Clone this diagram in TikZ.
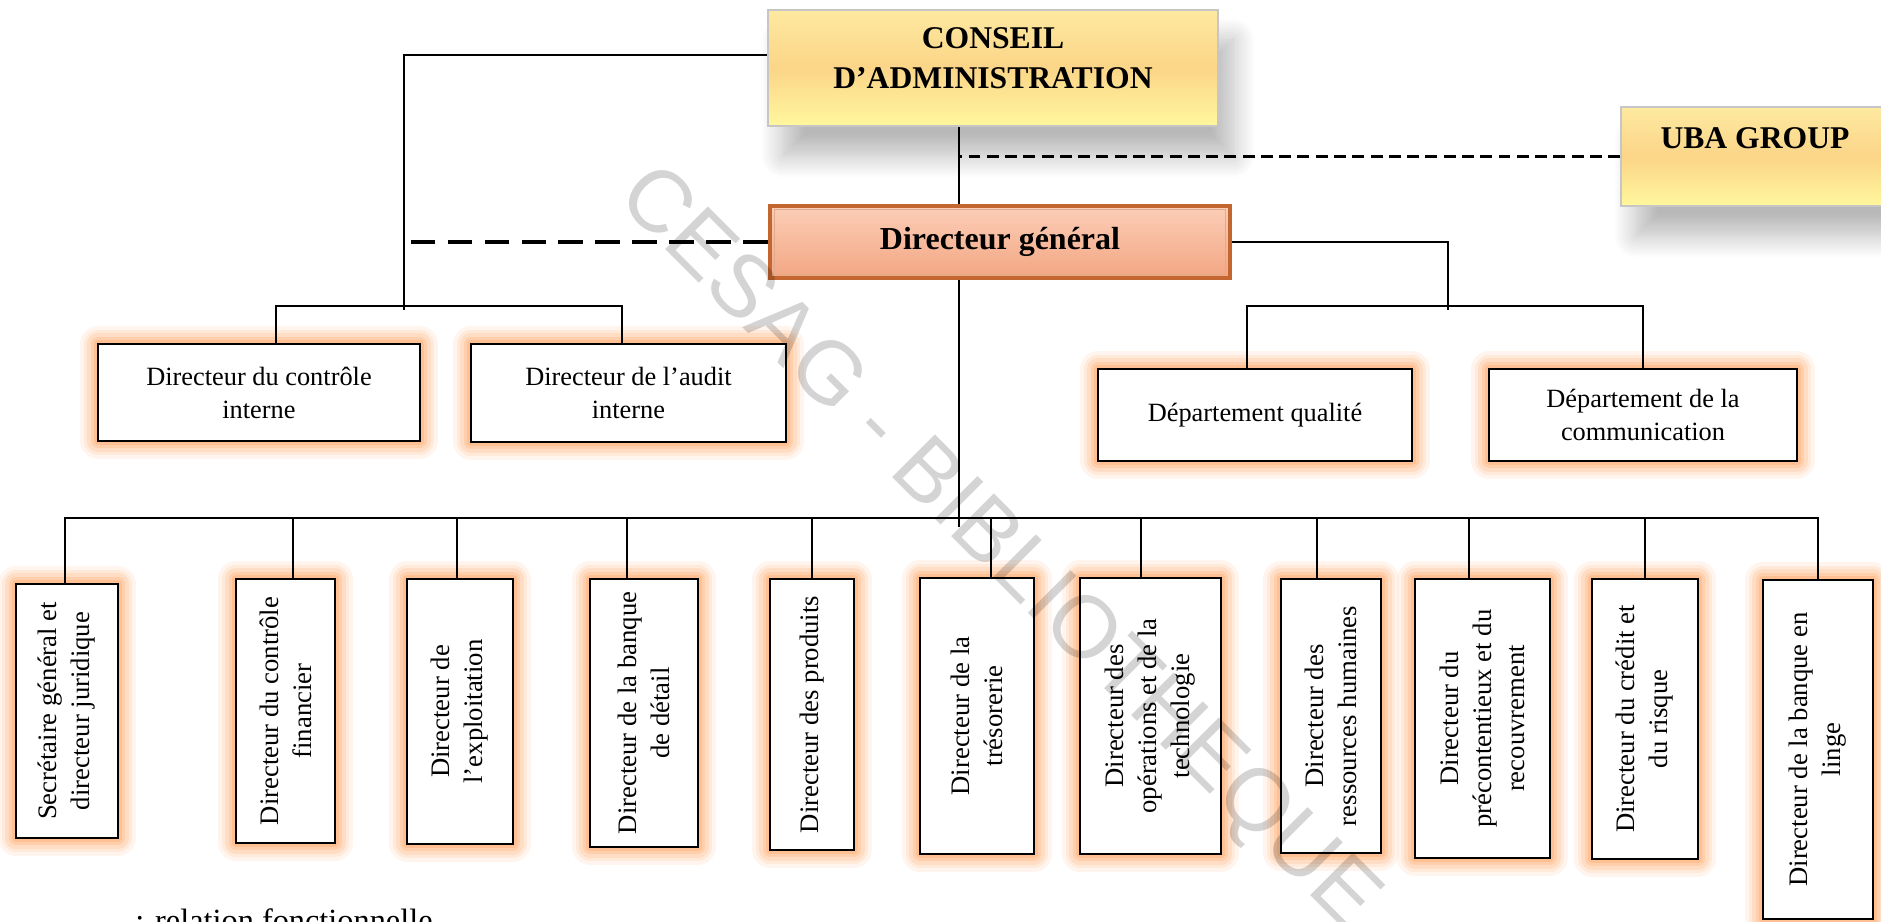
\documentclass[tikz,border=0pt]{standalone}
\usepackage{fontspec}
\setmainfont{Liberation Serif}
\newfontfamily\wmfont{Liberation Sans}
\usepackage{xcolor}
\usepackage{tikz}
\usetikzlibrary{shadows}
\usetikzlibrary{shadows.blur}
\usetikzlibrary{positioning}

\definecolor{glowc}{RGB}{255,158,88}
\definecolor{caTop}{RGB}{253,233,160}
\definecolor{caMid}{RGB}{251,213,136}
\definecolor{caBot}{RGB}{255,247,158}
\definecolor{dgTop}{RGB}{252,206,184}
\definecolor{dgBot}{RGB}{242,166,130}
\definecolor{dgEdge}{RGB}{196,102,48}

\tikzset{
    link/.style={draw=black, line width=.6pt},
    rel/.style={draw=black, line width=.9pt, dash pattern=on 7pt off 3.5pt},
    relb/.style={draw=black, line width=.7pt, dash pattern=on 3.4pt off 1.8pt},
    glowbox/.style={draw=black, line width=.8pt, fill=white, align=center, inner sep=2pt,
        preaction={draw=glowc, line width=10pt, opacity=.1, line join=round},
        preaction={draw=glowc, line width=8pt, opacity=.13, line join=round},
        preaction={draw=glowc, line width=6pt, opacity=.17, line join=round},
        preaction={draw=glowc, line width=4pt, opacity=.22, line join=round},
        preaction={draw=glowc, line width=2.5pt, opacity=.3, line join=round}},
    yellowbox/.style={top color=caTop, bottom color=caBot, middle color=caMid,
        draw=gray!45, line width=.5pt, font=\bfseries\fontsize{9}{11.4}\selectfont,
        blur shadow={shadow xshift=.15cm, shadow yshift=-.3cm, shadow blur radius=.22cm,
            shadow blur steps=16, shadow opacity=28}},
    dgbox/.style={top color=dgTop, bottom color=dgBot, draw=dgEdge, line width=1.4pt,
        font=\bfseries\fontsize{9.1}{11}\selectfont},
    dgbevel/.style={draw=dgEdge!55, line width=.5pt},
    wmark/.style={rotate=-45, inner sep=0pt, text=black, opacity=.17,
        font=\wmfont\fontsize{25}{30}\selectfont}
}

\begin{document}
\begin{tikzpicture}
    \useasboundingbox (0,0) rectangle (18.81,-9.22);
    \begin{scope}[every node/.style={yellowbox}]
    \node[minimum width=4.5cm, minimum height=1.16cm, text height=9pt, text depth=9pt] (ca) at (9.93,-.68) {\begin{tabular}{@{}c@{}}CONSEIL\\D’ADMINISTRATION\end{tabular}};
    \node[minimum width=2.68cm, minimum height=.99cm, text height=6.3pt, text depth=10.9pt] (uba) at (17.55,-1.565) {UBA GROUP};
    \end{scope}
    \node[dgbox, minimum width=4.6cm, minimum height=.72cm] (dg) at (10.0,-2.42) {Directeur général};
    \draw[dgbevel] ([shift={(.07,-.06)}]dg.north west) rectangle ([shift={(-.07,.06)}]dg.south east);
    \begin{scope}[every node/.style={glowbox, font=\fontsize{7.5}{9.4}\selectfont}]
    \node[minimum width=3.22cm, minimum height=.97cm] (dci) at (2.59,-3.925) {Directeur du contrôle\\interne};
    \node[minimum width=3.15cm, minimum height=.98cm] (dai) at (6.285,-3.93) {Directeur de l’audit\\interne};
    \node[minimum width=3.14cm, minimum height=.92cm] (dq) at (12.55,-4.15) {Département qualité};
    \node[minimum width=3.08cm, minimum height=.92cm] (dcom) at (16.43,-4.15) {Département de la\\communication};
    \end{scope}
    \begin{scope}[every node/.style={glowbox, rotate=90, font=\fontsize{7.6}{9.4}\selectfont}]
    \node[minimum width=2.54cm, minimum height=1.02cm] (b1) at (.67,-7.11) {Secrétaire général et\\directeur juridique};
    \node[minimum width=2.64cm, minimum height=.99cm] (b2) at (2.855,-7.11) {Directeur du contrôle\\financier};
    \node[minimum width=2.65cm, minimum height=1.06cm] (b3) at (4.60,-7.115) {Directeur de\\l’exploitation};
    \node[minimum width=2.68cm, minimum height=1.08cm] (b4) at (6.44,-7.13) {Directeur de la banque\\de détail};
    \node[minimum width=2.71cm, minimum height=.84cm] (b5) at (8.12,-7.145) {Directeur des produits};
    \node[minimum width=2.76cm, minimum height=1.14cm] (b6) at (9.77,-7.16) {Directeur de la\\trésorerie};
    \node[minimum width=2.76cm, minimum height=1.41cm] (b7) at (11.505,-7.16) {Directeur des\\opérations et de la\\technologie};
    \node[minimum width=2.74cm, minimum height=1.00cm] (b8) at (13.31,-7.16) {Directeur des\\ressources humaines};
    \node[minimum width=2.79cm, minimum height=1.35cm] (b9) at (14.825,-7.185) {Directeur du\\précontentieux et du\\recouvrement};
    \node[minimum width=2.80cm, minimum height=1.06cm] (b10) at (16.45,-7.19) {Directeur du crédit et\\du risque};
    \node[minimum width=3.39cm, minimum height=1.10cm] (b11) at (18.18,-7.495) {Directeur de la banque en\\linge};
    \end{scope}
    \coordinate (mid) at (9.59,-5.27);
    \coordinate (bus) at (9.59,-5.18);
    \coordinate (lj) at (4.04,-3.10);
    \coordinate (lb) at (4.04,-3.06);
    \coordinate (rj) at (14.48,-3.10);
    \coordinate (rb) at (14.48,-3.06);
    \draw[link] (ca.south -| mid) -- (dg.north -| mid);
    \draw[link] (dg.south -| mid) -- (mid);
    \draw[relb] (uba.west) -- (uba.west -| mid);
    \draw[link] ([yshift=.13cm]ca.west) -| (lj);
    \draw[rel] (dg.west) -- (dg.west -| lj);
    \draw[link] ([xshift=.17cm]dci.north) |- (lb) -| ([xshift=-.065cm]dai.north);
    \draw[link] (dg.east) -| (rj);
    \draw[link] ([xshift=-.08cm]dq.north) |- (rb) -| (dcom.north);
    \draw[link] (b1.east |- bus) -- (b11.east |- bus);
    \draw[link] ([xshift=-.02cm]b1.east) |- (bus);
    \draw[link] ([xshift=.075cm]b2.east) |- (bus);
    \draw[link] ([xshift=-.03cm]b3.east) |- (bus);
    \draw[link] ([xshift=-.17cm]b4.east) |- (bus);
    \draw[link] (b5.east) |- (bus);
    \draw[link] ([xshift=.14cm]b6.east) |- (bus);
    \draw[link] ([xshift=-.095cm]b7.east) |- (bus);
    \draw[link] ([xshift=-.14cm]b8.east) |- (bus);
    \draw[link] ([xshift=-.135cm]b9.east) |- (bus);
    \draw[link] (b10.east) |- (bus);
    \draw[link] (b11.east) |- (bus);
    \node[anchor=base west, font=\fontsize{9.2}{11}\selectfont] (leg) at (1.23,-9.32) {: relation fonctionnelle};
    \node[wmark] (wm) at (9.97,-5.50) {CESAG - BIBLIOTHEQUE};
\end{tikzpicture}
\end{document}
